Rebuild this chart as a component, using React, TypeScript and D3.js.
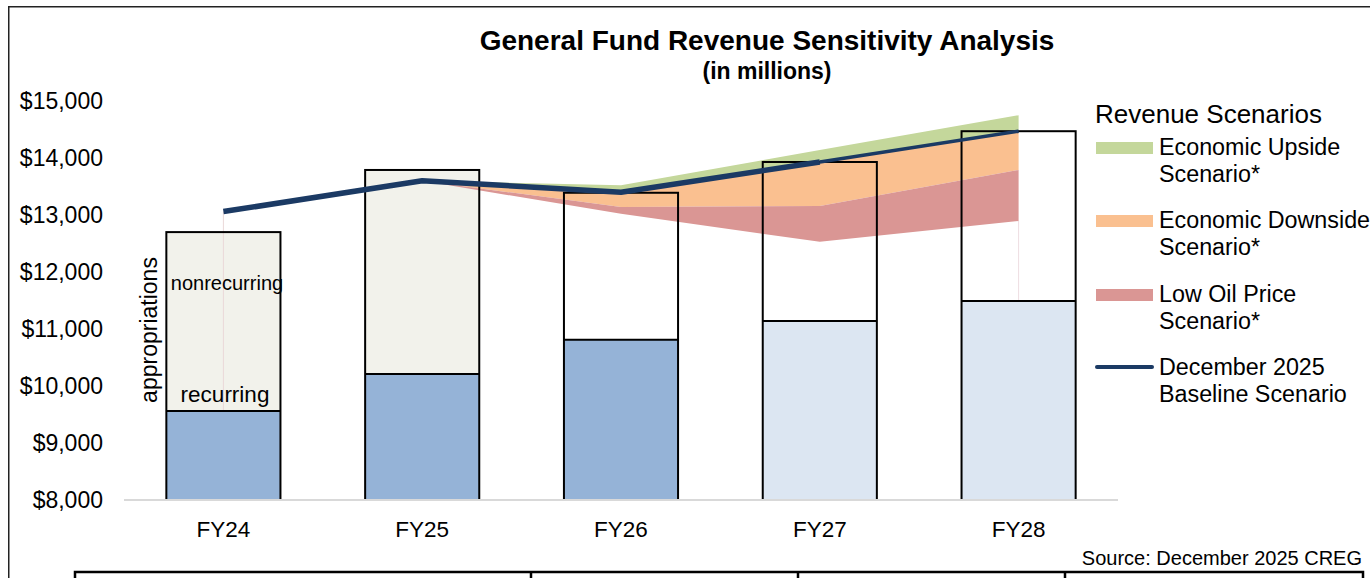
import React from 'react';
import * as d3 from 'd3';

const categories = ['FY24', 'FY25', 'FY26', 'FY27', 'FY28'];
const recurring = [9560, 10210, 10810, 11140, 11490];
const totalAppropriations = [12700, 13790, 13390, 13930, 14470];
const baseline = [13060, 13600, 13400, 13930, 14470];
const upside = [null, 13600, 13520, 14140, 14750];
const downside = [null, 13600, 13140, 13160, 13790];
const lowOil = [null, 13600, 13020, 12530, 12895];
const yTicks = [8000, 9000, 10000, 11000, 12000, 13000, 14000, 15000];
const legendItems = [
  { key: 'upside', lines: ['Economic Upside', 'Scenario*'] },
  { key: 'downside', lines: ['Economic Downside', 'Scenario*'] },
  { key: 'lowOil', lines: ['Low Oil Price', 'Scenario*'] },
  { key: 'baseline', lines: ['December 2025', 'Baseline Scenario'] },
];

const FONT = "'Liberation Sans', Arial, sans-serif";
const C = {
  green: '#C4D79B',
  orange: '#FAC090',
  red: '#DA9694',
  navy: '#1B3A64',
  blue: '#95B3D7',
  lightBlue: '#DCE6F2',
  beige: '#F2F2EB',
};

export default function App() {
  const W = 1370, H = 578;
  const x = d3.scaleBand<string>().domain(categories).range([124, 1118]).padding(0);
  const bw = x.bandwidth();
  const barW = bw * 0.574;
  const cx = (i: number) => (x(categories[i]) as number) + bw / 2;
  const y = d3.scaleLinear().domain([8000, 15000]).range([500, 101]);

  const idx = [1, 2, 3, 4];
  const greenArea = d3.area<number>().x(i => cx(i)).y0(i => y(baseline[i])).y1(i => y(upside[i] as number))(idx);
  const orangeArea = d3.area<number>().x(i => cx(i)).y0(i => y(downside[i] as number)).y1(i => y(baseline[i]))(idx);
  const redArea = d3.area<number>().x(i => cx(i)).y0(i => y(lowOil[i] as number)).y1(i => y(downside[i] as number))(idx);
  const line = d3.line<number>().x(i => cx(i)).y(i => y(baseline[i]));
  const lineMain = line([0, 1, 2, 3]);
  const lineEnd = line([3, 4]);

  const legendColors: Record<string, string> = { upside: C.green, downside: C.orange, lowOil: C.red, baseline: C.navy };
  const legendY = [155, 228, 302, 375];

  return (
    <svg width={W} height={H} style={{ position: 'absolute', left: 0, top: 0, background: '#fff' }} fontFamily={FONT}>
      <rect x={0} y={0} width={W} height={H} fill="#fff" />
      {/* frame */}
      <path d={`M8.75,${H} V6.75 H${W}`} fill="none" stroke="#222" strokeWidth={1.5} />

      {/* title */}
      <text x={767} y={50} textAnchor="middle" fontSize={28} fontWeight="bold" fill="#000">General Fund Revenue Sensitivity Analysis</text>
      <text x={767} y={79} textAnchor="middle" fontSize={23} fontWeight="bold" fill="#000">(in millions)</text>

      {/* y axis labels */}
      {yTicks.map(t => (
        <text key={t} x={103} y={y(t)} dy="0.36em" textAnchor="end" fontSize={23} fill="#000">
          {d3.format('$,')(t)}
        </text>
      ))}

      {/* bar fills */}
      {categories.map((c, i) => {
        const bx = cx(i) - barW / 2;
        return (
          <g key={c}>
            <rect x={bx} y={y(totalAppropriations[i])} width={barW} height={y(recurring[i]) - y(totalAppropriations[i])} fill={i < 2 ? C.beige : '#fff'} />
            <rect x={bx} y={y(recurring[i])} width={barW} height={y(8000) - y(recurring[i])} fill={i < 3 ? C.blue : C.lightBlue} />
          </g>
        );
      })}

      {/* faint drop lines */}
      <line x1={cx(0)} x2={cx(0)} y1={y(baseline[0])} y2={y(recurring[0])} stroke="#EAD8D8" strokeWidth={1} />
      <line x1={cx(4)} x2={cx(4)} y1={y(lowOil[4] as number)} y2={y(recurring[4])} stroke="#EEDDE2" strokeWidth={1} />

      {/* scenario areas */}
      <path d={greenArea ?? ''} fill={C.green} />
      <path d={orangeArea ?? ''} fill={C.orange} />
      <path d={redArea ?? ''} fill={C.red} />

      {/* bar outlines */}
      {categories.map((c, i) => {
        const bx = cx(i) - barW / 2;
        return (
          <g key={c} fill="none" stroke="#000" strokeWidth={2}>
            <rect x={bx} y={y(totalAppropriations[i])} width={barW} height={y(8000) - y(totalAppropriations[i])} />
            <line x1={bx} x2={bx + barW} y1={y(recurring[i])} y2={y(recurring[i])} />
          </g>
        );
      })}

      {/* x axis baseline */}
      <line x1={124} x2={1118} y1={y(8000)} y2={y(8000)} stroke="#D9D9D9" strokeWidth={2} />

      {/* baseline scenario line */}
      <path d={lineMain ?? ''} fill="none" stroke={C.navy} strokeWidth={5.5} strokeLinejoin="round" />
      <path d={lineEnd ?? ''} fill="none" stroke={C.navy} strokeWidth={3.5} strokeLinejoin="round" />

      {/* x labels */}
      {categories.map((c, i) => (
        <text key={c} x={cx(i)} y={537} textAnchor="middle" fontSize={22.5} fill="#000">{c}</text>
      ))}

      {/* bar annotations */}
      <text transform={`translate(157,330) rotate(-90)`} textAnchor="middle" fontSize={23} fill="#000">appropriations</text>
      <text x={227} y={290} textAnchor="middle" fontSize={20} fill="#000">nonrecurring</text>
      <text x={225} y={402} textAnchor="middle" fontSize={22.5} fill="#000">recurring</text>

      {/* legend */}
      <text x={1095} y={123} fontSize={26} fill="#000">Revenue Scenarios</text>
      {legendItems.map((it, k) => (
        <g key={it.key}>
          {it.key === 'baseline' ? (
            <line x1={1097} x2={1152} y1={legendY[k] - 8} y2={legendY[k] - 8} stroke={legendColors[it.key]} strokeWidth={4} strokeLinecap="round" />
          ) : (
            <rect x={1096} y={legendY[k] - 13} width={57} height={12} fill={legendColors[it.key]} />
          )}
          {it.lines.map((ln, j) => (
            <text key={j} x={1159} y={legendY[k] + j * 27} fontSize={23.3} fill="#000">{ln}</text>
          ))}
        </g>
      ))}

      {/* source */}
      <text x={1362} y={565} textAnchor="end" fontSize={20} fill="#000">Source: December 2025 CREG</text>

      {/* table top */}
      <path d={`M75,${H} V572 H1363 V${H}`} fill="none" stroke="#000" strokeWidth={2.5} />
      {[531, 798, 1065].map(v => (
        <line key={v} x1={v} x2={v} y1={572} y2={H} stroke="#000" strokeWidth={2.5} />
      ))}
    </svg>
  );
}
